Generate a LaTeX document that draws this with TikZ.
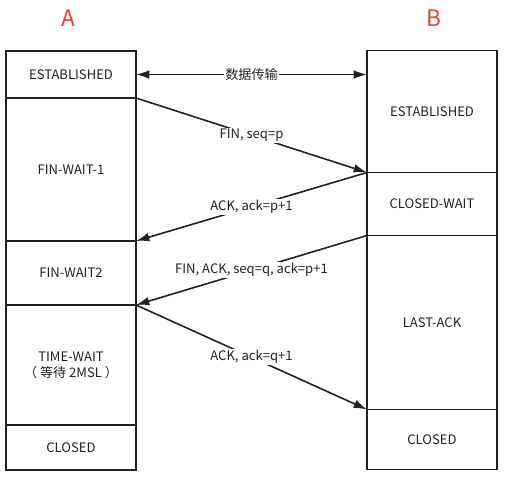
\documentclass[tikz,border=0pt]{standalone}
\usepackage{fontspec}
\setmainfont{Noto Sans CJK SC}
\usetikzlibrary{positioning,arrows.meta}

\definecolor{labelred}{HTML}{E5432A}
\definecolor{ink}{HTML}{222222}

\tikzset{
    state/.style={draw=ink, line width=1.3pt, minimum width=97.5pt, inner sep=0pt, outer sep=0pt, text=ink, font=\fontsize{9.8}{12}\selectfont, align=center},
    msg/.style={draw=ink, line width=1.2pt, -{Latex[length=10pt,width=6.5pt]}},
    msglabel/.style={fill=white, inner sep=1pt, text=ink, font=\fontsize{9.8}{12}\selectfont},
    side/.style={text=labelred, font=\fontsize{17}{20}\selectfont}
}

\begin{document}
\begin{tikzpicture}[x=0.75pt, y=-0.75pt]
    \useasboundingbox (0,0) rectangle (508,480);
    \node[side] (A) at (68,18) {A};
    \node[side] (B) at (434,18) {B};
    % A side
    \node[state, minimum height=35.25pt] (a1) at (71,74.5) {ESTABLISHED};
    \node[state, minimum height=107.25pt, below=0pt of a1] (a2) {FIN-WAIT-1};
    \node[state, minimum height=48pt, below=0pt of a2] (a3) {FIN-WAIT2};
    \node[state, minimum height=90pt, below=0pt of a3] (a4) {TIME-WAIT\\（ 等待 2MSL ）};
    \node[state, minimum height=33.75pt, below=0pt of a4] (a5) {CLOSED};
    % B side
    \node[state, minimum height=91.5pt] (b1) at (432,111.5) {ESTABLISHED};
    \node[state, minimum height=47.25pt, below=0pt of b1] (b2) {CLOSED-WAIT};
    \node[state, minimum height=130.5pt, below=0pt of b2] (b3) {LAST-ACK};
    \node[state, minimum height=45pt, below=0pt of b3] (b4) {CLOSED};
    % messages
    \draw[msg, {Latex[length=10pt,width=6.5pt]}-{Latex[length=10pt,width=6.5pt]}] (a1.east) -- node[msglabel] {数据传输} (a1.east -| b1.west);
    \draw[msg] (a2.north east) -- node[msglabel] {FIN, seq=p} (b2.north west);
    \draw[msg] (b2.north west) -- node[msglabel] {ACK, ack=p+1} (a3.north east);
    \draw[msg] (b3.north west) -- node[msglabel] {FIN, ACK, seq=q, ack=p+1} (a4.north east);
    \draw[msg] (a4.north east) -- node[msglabel] {ACK, ack=q+1} (b4.north west);
\end{tikzpicture}
\end{document}
